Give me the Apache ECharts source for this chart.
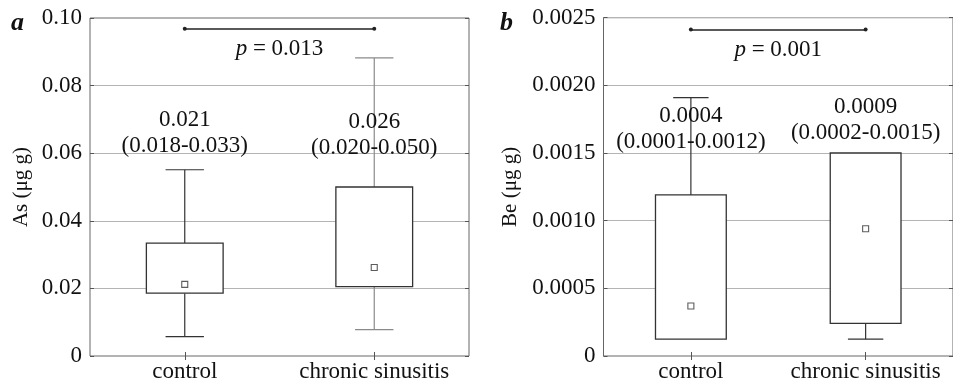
<!DOCTYPE html>
<html>
<head>
<meta charset="utf-8">
<script src="https://cdn.jsdelivr.net/npm/echarts@6/dist/echarts.min.js"></script>
<style>html,body{margin:0;padding:0;background:#fff}#c{width:953px;height:383px}</style>
</head>
<body>
<div id="c"></div>
<script>
// ---------- data ----------
const categories = ['control', 'chronic sinusitis'];
// [min, Q1, Q3, max] per category
const boxA = [[0.00575, 0.0186, 0.0334, 0.0551], [0.0078, 0.0205, 0.0500, 0.0882]];
const medianA = [0.0212, 0.0262];
const boxB = [[0.000124, 0.000124, 0.00119, 0.00191], [0.000124, 0.000241, 0.00150, 0.00150]];
const medianB = [0.00037, 0.00094];
const textA = [['0.021', '(0.018-0.033)'], ['0.026', '(0.020-0.050)']];
const textB = [['0.0004', '(0.0001-0.0012)'], ['0.0009', '(0.0002-0.0015)']];
const pA = '0.013';
const pB = '0.001';
const ticksA = ['0', '0.02', '0.04', '0.06', '0.08', '0.10'];
const ticksB = ['0', '0.0005', '0.0010', '0.0015', '0.0020', '0.0025'];
const nameA = 'As (μg g)';
const nameB = 'Be (μg g)';

// ---------- layout / style ----------
const FONT = 'Liberation Serif';
const FS = 23;
const sigA = 0.0968, sigB = 0.002412;
const textPosA = [0.0661, 0.0655];
const textPosB = [0.00168, 0.001743];
const whiskerColorsA = ['#333', '#8a8a8a'];
const whiskerColorsB = ['#333', '#333'];
const TXT = '#111';

const chart = echarts.init(document.getElementById('c'));

function makeRender(whiskerColors) {
  return function (params, api) {
    const x = api.value(0);
    const mn = api.value(1), q1 = api.value(2), q3 = api.value(3), mx = api.value(4);
    const band = api.size([1, 0])[0];
    const bw = band * 0.405, cw = bw * 0.5;
    const pMin = api.coord([x, mn]), pQ1 = api.coord([x, q1]);
    const pQ3 = api.coord([x, q3]), pMax = api.coord([x, mx]);
    const cx = pQ1[0];
    const wc = whiskerColors[params.dataIndex];
    const ls = { stroke: wc, lineWidth: 1.2 };
    const children = [];
    if (mx > q3) {
      children.push({ type: 'line', shape: { x1: cx, y1: pQ3[1], x2: cx, y2: pMax[1] }, style: ls });
      children.push({ type: 'line', shape: { x1: cx - cw / 2, y1: pMax[1], x2: cx + cw / 2, y2: pMax[1] }, style: ls });
    }
    if (mn < q1) {
      children.push({ type: 'line', shape: { x1: cx, y1: pQ1[1], x2: cx, y2: pMin[1] }, style: ls });
      children.push({ type: 'line', shape: { x1: cx - cw / 2, y1: pMin[1], x2: cx + cw / 2, y2: pMin[1] }, style: ls });
    }
    children.push({
      type: 'rect',
      shape: { x: cx - bw / 2, y: pQ3[1], width: bw, height: pQ1[1] - pQ3[1] },
      style: { fill: '#fff', stroke: '#333', lineWidth: 1.3 }
    });
    return { type: 'group', children };
  };
}

function xAxes(gi, top) {
  return {
    type: 'category', gridIndex: gi, data: categories, position: top ? 'top' : 'bottom',
    axisLine: { show: false },
    axisTick: { show: true, inside: true, alignWithLabel: true, length: 4, lineStyle: { color: '#555' } },
    axisLabel: { show: !top, interval: 0, hideOverlap: false, margin: 4, fontFamily: FONT, fontSize: FS, color: TXT },
    splitLine: { show: false }
  };
}
function yAxes(gi, right, max, interval, ticks, name, gap) {
  return {
    type: 'value', gridIndex: gi, min: 0, max: max, interval: interval, position: right ? 'right' : 'left',
    name: right ? '' : name, nameLocation: 'middle', nameGap: gap,
    nameTextStyle: { fontFamily: FONT, fontSize: 21, color: TXT },
    axisLine: { show: false },
    axisTick: { show: true, inside: true, length: 4, lineStyle: { color: '#555' } },
    axisLabel: { show: !right, margin: 8, fontFamily: FONT, fontSize: FS, color: TXT,
      formatter: (v, i) => ticks[i] },
    splitLine: { show: !right, lineStyle: { color: '#b4b4b4', width: 1 } }
  };
}

function panelSeries(xi, yi, box, med, txt, txtPos, sig, p, wcol) {
  return [
    {
      type: 'custom', xAxisIndex: xi, yAxisIndex: yi, renderItem: makeRender(wcol),
      data: box.map((b, i) => [i, b[0], b[1], b[2], b[3]]), z: 2, silent: true
    },
    {
      type: 'scatter', xAxisIndex: xi, yAxisIndex: yi, symbol: 'rect', symbolSize: 6, z: 4, silent: true,
      itemStyle: { color: '#fff', borderColor: '#333', borderWidth: 1.1 },
      data: med.map((m, i) => [i, m]),
      markLine: {
        silent: true, symbol: ['circle', 'circle'], symbolSize: 4,
        lineStyle: { color: '#222', width: 1.5, type: 'solid' },
        label: { show: true, position: 'insideMiddleBottom', distance: 9, formatter: '{i|p} = ' + p,
          fontFamily: FONT, fontSize: FS, color: TXT, textBorderWidth: 0,
          rich: { i: { fontFamily: FONT, fontSize: FS, fontStyle: 'italic', color: TXT } } },
        data: [[{ coord: [categories[0], sig], itemStyle: { color: '#222' } }, { coord: [categories[1], sig], itemStyle: { color: '#222' } }]]
      }
    },
    {
      type: 'scatter', xAxisIndex: xi, yAxisIndex: yi, symbolSize: 1, z: 5, silent: true,
      itemStyle: { color: 'rgba(0,0,0,0)' },
      label: { show: true, position: 'inside', fontFamily: FONT, fontSize: FS, color: TXT, lineHeight: 26,
        textBorderWidth: 0, textBorderColor: 'transparent', opacity: 1,
        formatter: (pr) => txt[pr.dataIndex].join('\n') },
      data: txtPos.map((v, i) => [i, v])
    }
  ];
}

const option = {
  animation: false,
  backgroundColor: '#fff',
  grid: [
    { left: 90, right: 484, top: 18, bottom: 23, show: true, borderColor: '#666', borderWidth: 1 },
    { left: 603.5, right: -7, top: 17.7, bottom: 23, show: true, borderColor: '#666', borderWidth: 1 }
  ],
  xAxis: [xAxes(0, false), xAxes(0, true), xAxes(1, false), xAxes(1, true)],
  yAxis: [
    yAxes(0, false, 0.1, 0.02, ticksA, nameA, 58),
    yAxes(0, true, 0.1, 0.02, ticksA, '', 0),
    yAxes(1, false, 0.0025, 0.0005, ticksB, nameB, 83),
    yAxes(1, true, 0.0025, 0.0005, ticksB, '', 0)
  ],
  series: [
    ...panelSeries(0, 0, boxA, medianA, textA, textPosA, sigA, pA, whiskerColorsA),
    ...panelSeries(2, 2, boxB, medianB, textB, textPosB, sigB, pB, whiskerColorsB)
  ],
  graphic: [
    { type: 'text', left: 11, top: 10, style: { text: 'a', font: 'bold italic 26px "' + FONT + '"', fill: '#111' } },
    { type: 'text', left: 500, top: 10, style: { text: 'b', font: 'bold italic 26px "' + FONT + '"', fill: '#111' } }
  ]
};
chart.setOption(option);
</script>
</body>
</html>
